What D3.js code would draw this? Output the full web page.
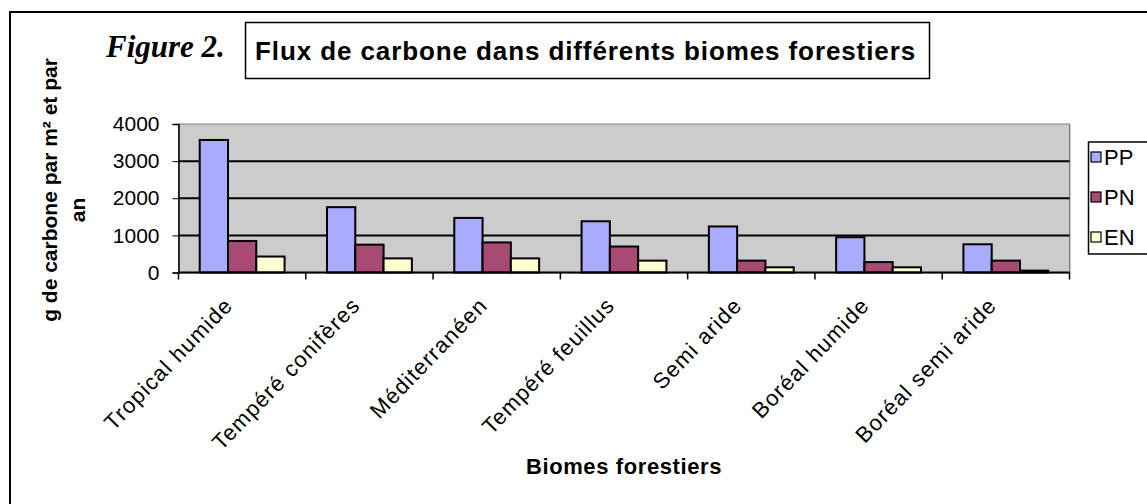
<!DOCTYPE html>
<html>
<head>
<meta charset="utf-8">
<script src="https://cdn.jsdelivr.net/npm/d3@7"></script>
<style>
  body { margin: 0; background: #fff; }
  text { font-family: Arial, "Liberation Sans", sans-serif; }
</style>
</head>
<body>
<svg></svg>
<script>
// data
var categories = ['Tropical humide', 'Tempéré conifères', 'Méditerranéen', 'Tempéré feuillus',
                  'Semi aride', 'Boréal humide', 'Boréal semi aride'];
var series = ['PP', 'PN', 'EN'];
var ppValues = [3570, 1760, 1470, 1380, 1240, 950, 760];
var pnValues = [850, 750, 810, 700, 320, 280, 320];
var enValues = [430, 380, 380, 320, 140, 140, 50];
var yTicks = [0, 1000, 2000, 3000, 4000];
var colors = ['#a9abff', '#a94a75', '#ffffd0'];

var svgWidth = 1147, svgHeight = 504;
var plot = { left: 178.5, right: 1069.5, top: 124, bottom: 272.5 };

var svg = d3.select('svg')
    .attr('width', svgWidth)
    .attr('height', svgHeight);

// outer frame (cut off at right/bottom)
svg.append('rect')
    .attr('x', 10).attr('y', 12)
    .attr('width', 1160).attr('height', 520)
    .attr('fill', '#fff')
    .attr('stroke', '#000')
    .attr('stroke-width', 2);

var x = d3.scaleBand()
    .domain(categories)
    .range([plot.left, plot.right]);

var x1 = d3.scaleBand()
    .domain(series)
    .range([0, x.bandwidth()])
    .paddingOuter(0.75);

var y = d3.scaleLinear()
    .domain([0, 4000])
    .range([plot.bottom, plot.top]);

// plot area
svg.append('rect')
    .attr('x', plot.left + 1).attr('y', plot.top + 1)
    .attr('width', plot.right - plot.left).attr('height', plot.bottom - plot.top)
    .attr('fill', '#888');
svg.append('rect')
    .attr('x', plot.left).attr('y', plot.top)
    .attr('width', plot.right - plot.left).attr('height', plot.bottom - plot.top)
    .attr('fill', '#cccccc')
    .attr('stroke', '#808080')
    .attr('stroke-width', 1);

// gridlines
svg.append('g')
    .selectAll('line')
    .data(yTicks.filter(d => d > 0 && d < 4000))
    .enter()
    .append('line')
    .attr('x1', plot.left).attr('x2', plot.right)
    .attr('y1', d => y(d)).attr('y2', d => y(d))
    .attr('stroke', '#000')
    .attr('stroke-width', 2);

// bars
var data = categories.map((c, i) => ({ cat: c, values: [ppValues[i], pnValues[i], enValues[i]] }));

var groups = svg.append('g')
    .selectAll('g')
    .data(data)
    .enter()
    .append('g')
    .attr('transform', d => 'translate(' + x(d.cat) + ',0)');

groups.selectAll('rect')
    .data(d => d.values.map((v, i) => ({ s: series[i], v: v, i: i })))
    .enter()
    .append('rect')
    .attr('x', d => x1(d.s))
    .attr('y', d => y(d.v))
    .attr('width', x1.bandwidth())
    .attr('height', d => y(0) - y(d.v))
    .attr('fill', d => colors[d.i])
    .attr('stroke', '#000')
    .attr('stroke-width', 2);

// y axis
var yAxis = svg.append('g')
    .attr('transform', 'translate(' + plot.left + ',0)')
    .call(d3.axisLeft(y).tickValues(yTicks).tickFormat(d3.format('d')).tickSize(6).tickPadding(13));
yAxis.select('.domain').attr('stroke', '#000').attr('stroke-width', 1.5);
yAxis.selectAll('text').style('font-size', '21px').attr('fill', '#000');

// x axis baseline + ticks between categories
svg.append('line')
    .attr('x1', plot.left).attr('x2', plot.right)
    .attr('y1', y(0)).attr('y2', y(0))
    .attr('stroke', '#000').attr('stroke-width', 2);

var boundaries = categories.map(c => x(c)).concat([x.range()[1]]);
svg.append('g')
    .selectAll('line')
    .data(boundaries)
    .enter()
    .append('line')
    .attr('x1', d => d).attr('x2', d => d)
    .attr('y1', y(0)).attr('y2', y(0) + 7)
    .attr('stroke', '#000').attr('stroke-width', 1.5);

// category labels
svg.append('g')
    .selectAll('text')
    .data(categories)
    .enter()
    .append('text')
    .attr('text-anchor', 'end')
    .attr('transform', d => 'translate(' + (x(d) + x.bandwidth() / 2 - 8) + ',' + (y(0) + 34) + ') rotate(-46)')
    .style('font-size', '22px')
    .style('letter-spacing', '1.2px')
    .text(d => d);

// axis titles
svg.append('text')
    .attr('x', (plot.left + plot.right) / 2)
    .attr('y', 474)
    .attr('text-anchor', 'middle')
    .style('font-size', '22px')
    .style('font-weight', 'bold')
    .style('letter-spacing', '0.6px')
    .text('Biomes forestiers');

var yTitle = svg.append('g')
    .attr('transform', 'translate(0,190) rotate(-90)')
    .style('font-size', '21px')
    .style('font-weight', 'bold')
    .attr('text-anchor', 'middle');
yTitle.append('text').attr('x', 0).attr('y', 57).text('g de carbone par m² et par');
yTitle.append('text').attr('x', -20).attr('y', 85).text('an');

// figure label and title box
svg.append('text')
    .attr('x', 106).attr('y', 57)
    .style('font-family', '"Liberation Serif", "Times New Roman", serif')
    .style('font-style', 'italic')
    .style('font-weight', 'bold')
    .style('font-size', '31px')
    .text('Figure 2.');

svg.append('rect')
    .attr('x', 245.5).attr('y', 22.5)
    .attr('width', 684).attr('height', 56)
    .attr('fill', '#fff')
    .attr('stroke', '#000')
    .attr('stroke-width', 1.5);

svg.append('text')
    .attr('x', 255).attr('y', 60)
    .style('font-size', '26px')
    .style('font-weight', 'bold')
    .style('letter-spacing', '0.9px')
    .text('Flux de carbone dans différents biomes forestiers');

// legend
var legend = svg.append('g');
legend.append('rect')
    .attr('x', 1088.5).attr('y', 142)
    .attr('width', 100).attr('height', 112)
    .attr('fill', '#fff')
    .attr('stroke', '#000')
    .attr('stroke-width', 1.5);

var items = legend.selectAll('g.item')
    .data(series)
    .enter()
    .append('g')
    .attr('class', 'item')
    .attr('transform', (d, i) => 'translate(1091,' + (157 + i * 40) + ')');

items.append('rect')
    .attr('x', 0).attr('y', -5)
    .attr('width', 10).attr('height', 10)
    .attr('fill', (d, i) => colors[i])
    .attr('stroke', '#000')
    .attr('stroke-width', 1.2);

items.append('text')
    .attr('x', 13).attr('y', 8)
    .style('font-size', '22px')
    .text(d => d);
</script>
</body>
</html>
